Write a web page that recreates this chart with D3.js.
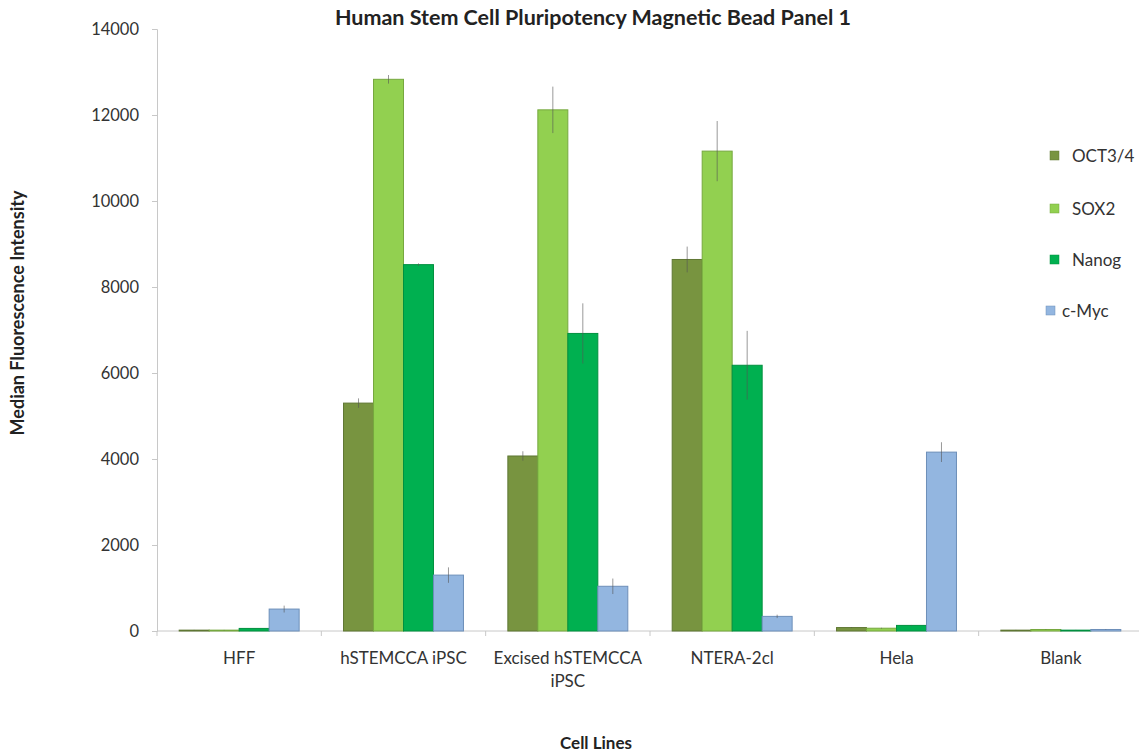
<!DOCTYPE html>
<html><head><meta charset="utf-8">
<script src="https://cdn.jsdelivr.net/npm/d3@7/dist/d3.min.js"></script>
<style>body{margin:0;background:#fff}svg{display:block}</style>
</head><body><svg id="c" width="1139" height="753"></svg>
<script>
const categories = ["HFF","hSTEMCCA iPSC","Excised hSTEMCCA iPSC","NTERA-2cl","Hela","Blank"];
const seriesNames = ["OCT3/4","SOX2","Nanog","c-Myc"];
const oct   = [20, 5300, 4070, 8640, 80, 20];
const sox2  = [20, 12830, 12120, 11160, 65, 35];
const nanog = [60, 8520, 6920, 6180, 130, 20];
const cmyc  = [510, 1300, 1040, 340, 4160, 35];
const octErr   = [5, 110, 110, 300, 10, 5];
const sox2Err  = [5, 100, 540, 700, 10, 5];
const nanogErr = [5, 30, 700, 800, 10, 5];
const cmycErr  = [80, 180, 180, 40, 230, 5];
const yTicks = [0,2000,4000,6000,8000,10000,12000,14000];
const colors = ["#789440","#92D050","#00B050","#93B6E0"];
const strokes = ["#5f7733","#76a83f","#00903f","#6d8fb9"];

const values = [oct, sox2, nanog, cmyc];
const errs = [octErr, sox2Err, nanogErr, cmycErr];

const svg = d3.select("#c");
const x0 = 157, x1 = 1143, yTop = 29, yBot = 631;
const x = d3.scaleBand().domain(categories).range([x0, x1]).paddingInner(0).paddingOuter(0);
const xs = d3.scaleBand().domain(seriesNames).range([0, x.bandwidth()]).paddingOuter(0.74).paddingInner(0);
const y = d3.scaleLinear().domain([0,14000]).range([yBot, yTop]);
const font = "Lato, 'Open Sans', sans-serif";

// y axis
const ya = svg.append("g").attr("transform", `translate(${x0},0)`)
  .call(d3.axisLeft(y).tickValues(yTicks).tickSize(5).tickPadding(13).tickFormat(d3.format("d")));
ya.select(".domain").attr("stroke","#c8c8c8");
ya.selectAll(".tick line").attr("stroke","#c8c8c8");
ya.selectAll("text").attr("font-family",font).attr("font-size",16.5).attr("fill","#333");

// x axis
const xa = svg.append("g").attr("transform", `translate(0,${yBot})`);
xa.append("line").attr("x1",x0).attr("x2",1139).attr("stroke","#c8c8c8");
xa.selectAll("line.t").data(categories).enter().append("line")
  .attr("x1",d=>x(d)+x.bandwidth()).attr("x2",d=>x(d)+x.bandwidth())
  .attr("y1",0).attr("y2",5).attr("stroke","#c8c8c8");
xa.append("line").attr("x1",x0).attr("x2",x0).attr("y1",0).attr("y2",5).attr("stroke","#c8c8c8");

const labLines = {"Excised hSTEMCCA iPSC":["Excised hSTEMCCA","iPSC"]};
categories.forEach(c=>{
  const lines = labLines[c] || [c];
  const t = svg.append("text").attr("x", x(c)+x.bandwidth()/2).attr("y", 664)
    .attr("text-anchor","middle").attr("font-family",font).attr("font-size",17).attr("fill","#333");
  lines.forEach((l,i)=>t.append("tspan").attr("x", x(c)+x.bandwidth()/2).attr("dy", i===0?0:23).text(l));
});

// bars
seriesNames.forEach((s,si)=>{
  const g = svg.append("g");
  g.selectAll("rect").data(categories).enter().append("rect")
    .attr("x", c=>x(c)+xs(s)).attr("width", xs.bandwidth())
    .attr("y", (c,i)=>y(values[si][i])).attr("height",(c,i)=>yBot - y(values[si][i]))
    .attr("fill", colors[si]).attr("stroke", strokes[si]).attr("stroke-width",1);
  g.selectAll("line").data(categories).enter().append("line")
    .attr("x1", c=>x(c)+xs(s)+xs.bandwidth()/2).attr("x2", c=>x(c)+xs(s)+xs.bandwidth()/2)
    .attr("y1",(c,i)=>y(values[si][i]+errs[si][i])).attr("y2",(c,i)=>y(Math.max(0,values[si][i]-errs[si][i])))
    .attr("stroke","#555").attr("stroke-opacity",0.6).attr("stroke-width",1);
});

// legend
const legY = [156, 209, 260, 311];
seriesNames.forEach((s,i)=>{
  svg.append("rect").attr("x", i===3?1046:1050).attr("y", legY[i]-5).attr("width",9).attr("height",9)
    .attr("fill",colors[i]).attr("stroke",strokes[i]).attr("stroke-width",0.5);
  svg.append("text").attr("x", i===3?1062:1072).attr("y", legY[i]+6).attr("font-family",font)
    .attr("font-size",17).attr("fill","#333").text(s);
});

// titles
svg.append("text").attr("x",593).attr("y",25).attr("text-anchor","middle").attr("font-family",font)
  .attr("font-weight","bold").attr("font-size",21.5).attr("fill","#222").text("Human Stem Cell Pluripotency Magnetic Bead Panel 1");
svg.append("text").attr("transform","translate(24,313) rotate(-90)").attr("text-anchor","middle").attr("font-family",font)
  .attr("font-weight","bold").attr("font-size",18).attr("fill","#222").text("Median Fluorescence Intensity");
svg.append("text").attr("x",596).attr("y",749).attr("text-anchor","middle").attr("font-family",font)
  .attr("font-weight","bold").attr("font-size",17).attr("fill","#222").text("Cell Lines");
</script></body></html>
